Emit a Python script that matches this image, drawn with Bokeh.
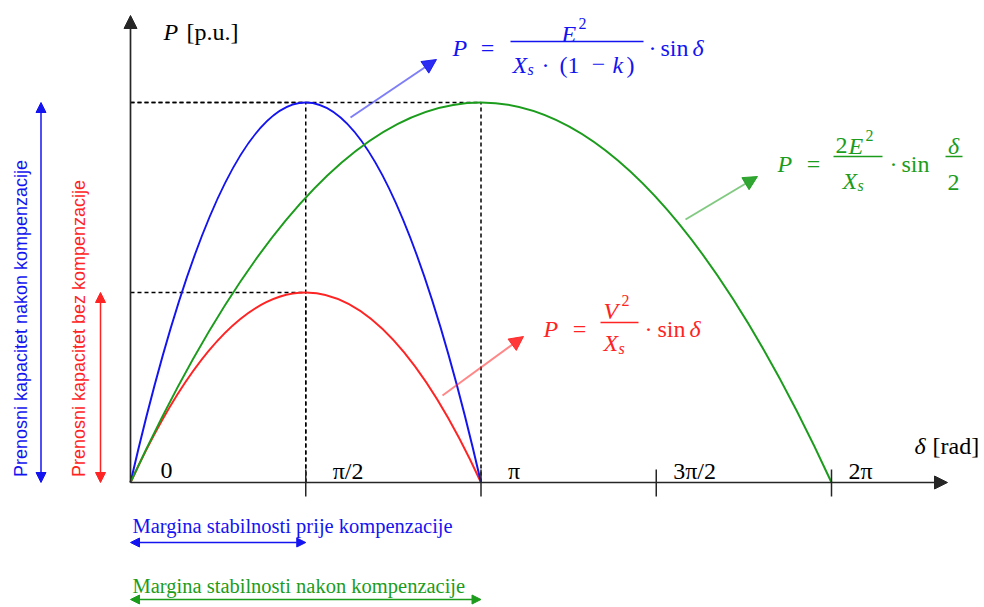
import numpy as np
from bokeh.plotting import figure
from bokeh.models import Arrow, NormalHead, Label, Range1d
from bokeh.core.properties import value
from bokeh.embed import file_html
from bokeh.resources import INLINE

PI = np.pi

# Power-angle characteristics: each arc runs from delta_start to delta_end and peaks mid-way
curve_ids = ["bez_kompenzacije", "nakon_kompenzacije", "pola_kuta"]
delta_start = [0.0, 0.0, 0.0]
delta_end = [PI, PI, 2 * PI]
p_peak = [1.0, 2.0, 2.0]          # peak power [p.u.]

# x axis ticks
tick_values = [0.0, PI / 2, PI, 3 * PI / 2, 2 * PI]
tick_labels = ["0", "π/2", "π", "3π/2", "2π"]

# ---------------------------------------------------------------- layout
W, H = 984, 607
X0_PX, Y0_PX = 130.0, 482.0          # where the origin sits on the canvas
PX_PER_RAD = 350.5 / PI
PX_PER_PU = 190.0


def dx(px):
    return (px - X0_PX) / PX_PER_RAD


def dy(py):
    return (Y0_PX - py) / PX_PER_PU


BLUE = "#1414f0"
RED = "#ff2424"
GREEN = "#1c9c1c"
AXIS = "#262626"
colors = {"bez_kompenzacije": RED, "nakon_kompenzacije": BLUE, "pola_kuta": GREEN}
SERIF = "Liberation Serif"
SANS = "Liberation Sans"
FS = 24      # formula text size
SUP = 16     # super/subscript size

p = figure(width=W, height=H, x_range=Range1d(dx(0), dx(W)), y_range=Range1d(dy(H), dy(0)),
           output_backend="svg", toolbar_location=None, min_border=0,
           x_axis_type=None, y_axis_type=None)
p.grid.visible = False
p.outline_line_color = None
p.background_fill_color = "white"
p.border_fill_color = "white"

peak_pos = {}
for cid, a, b, pk in zip(curve_ids, delta_start, delta_end, p_peak):
    peak_pos[cid] = ((a + b) / 2, pk)

# dashed guide lines from the axes to each maximum
for cid in curve_ids:
    xm, ym = peak_pos[cid]
    p.segment(x0=[0, xm], y0=[ym, 0], x1=[xm, xm], y1=[ym, ym],
              line_color="black", line_width=1.5, line_dash="4 3")

# the arcs themselves (quadratic curves through start, peak and end)
for cid, a, b, pk in zip(curve_ids, delta_start, delta_end, p_peak):
    p.quadratic(x0=[a], y0=[0], x1=[b], y1=[0], cx=[(a + b) / 2], cy=[2 * pk],
                line_color=colors[cid], line_width=2.0)


def arrow(x0, y0, x1, y1, color, size, width=1.5, both=False, head_alpha=1.0, line_alpha=1.0):
    end = NormalHead(size=size, line_color=color, fill_color=color,
                     line_alpha=head_alpha, fill_alpha=head_alpha)
    start = None
    if both:
        start = NormalHead(size=size, line_color=color, fill_color=color,
                           line_alpha=head_alpha, fill_alpha=head_alpha)
    p.add_layout(Arrow(start=start, end=end, x_start=x0, y_start=y0, x_end=x1, y_end=y1,
                       line_color=color, line_width=width, line_alpha=line_alpha))


# axes
arrow(0, 0, dx(947), 0, AXIS, 13, width=1.7)
arrow(0, 0, 0, dy(15), AXIS, 13, width=1.7)
p.segment(x0=tick_values[1:], x1=tick_values[1:], y0=[dy(469)] * 4, y1=[dy(496)] * 4,
          line_color=AXIS, line_width=1.5)

label_offsets_px = [30, 27, 27, 17, 17]
p.text(x=[t + o / PX_PER_RAD for t, o in zip(tick_values, label_offsets_px)],
       y=[dy(470)] * len(tick_values), text=tick_labels,
       text_font=value(SERIF), text_font_size="24px", text_color="black",
       text_align="left", text_baseline="alphabetic")


def put(text, x, y, color="black", size=FS, italic=False, align="left", font=SERIF):
    p.add_layout(Label(x=dx(x), y=dy(y), text=text, text_font=font,
                       text_font_size=f"{size}px",
                       text_font_style="italic" if italic else "normal",
                       text_color=color, text_align=align, text_baseline="alphabetic"))


def bar(x0, x1, y, color):
    p.segment(x0=[dx(x0)], x1=[dx(x1)], y0=[dy(y)], y1=[dy(y)], line_color=color, line_width=1.4)


# axis titles
put("P", 163, 31, size=24, italic=True)
put("[p.u.]", 186, 31, size=24)
put("δ", 914, 445, size=24, italic=True)
put("[rad]", 932, 445, size=24)

# P = E^2 / (X_s (1-k)) * sin d
put("P", 452, 47, BLUE, italic=True)
put("=", 487, 47, BLUE, align="center")
bar(510, 643, 41, BLUE)
put("E", 561, 33, BLUE, italic=True)
put("2", 578, 23, BLUE, size=SUP)
put("X", 512, 64, BLUE, italic=True)
put("s", 527, 69, BLUE, size=SUP, italic=True)
put("·", 545, 64, BLUE, align="center")
put("(1", 559, 64, BLUE)
put("−", 598, 64, BLUE, align="center")
put("k", 612, 64, BLUE, italic=True)
put(")", 626, 64, BLUE)
put("·", 652, 47, BLUE, align="center")
put("sin", 660, 47, BLUE)
put("δ", 692, 47, BLUE, italic=True)

# P = 2E^2 / X_s * sin d/2
put("P", 777, 163, GREEN, italic=True)
put("=", 813, 163, GREEN, align="center")
bar(833, 882, 156, GREEN)
put("2", 835, 145, GREEN)
put("E", 848, 145, GREEN, italic=True)
put("2", 865, 135, GREEN, size=SUP)
put("X", 842, 180, GREEN, italic=True)
put("s", 857, 185, GREEN, size=SUP, italic=True)
put("·", 893, 163, GREEN, align="center")
put("sin", 901, 163, GREEN)
bar(945, 962, 156, GREEN)
put("δ", 953, 145, GREEN, italic=True, align="center")
put("2", 953, 182, GREEN, align="center")

# P = V^2 / X_s * sin d
put("P", 543, 328, RED, italic=True)
put("=", 579, 328, RED, align="center")
bar(600, 638, 322, RED)
put("V", 603, 310, RED, italic=True)
put("2", 621, 300, RED, size=SUP)
put("X", 603, 342, RED, italic=True)
put("s", 618, 348, RED, size=SUP, italic=True)
put("·", 648, 328, RED, align="center")
put("sin", 657, 328, RED)
put("δ", 689, 328, RED, italic=True)

# pointers from the arcs to their formulas
arrow(dx(350), dy(117), dx(436), dy(59), BLUE, 14, width=2, line_alpha=0.55, head_alpha=0.9)
arrow(dx(685), dy(219), dx(757), dy(176), GREEN, 14, width=2, line_alpha=0.55, head_alpha=0.9)
arrow(dx(442), dy(395), dx(523), dy(336), RED, 14, width=2, line_alpha=0.55, head_alpha=0.9)

# transfer capacity (vertical double arrows)
arrow(dx(40.5), 0, dx(40.5), peak_pos["nakon_kompenzacije"][1], BLUE, 10, both=True)
arrow(dx(100), 0, dx(100), peak_pos["bez_kompenzacije"][1], RED, 10, both=True)
p.add_layout(Label(x=dx(20.5), y=dy(318), text="Prenosni kapacitet nakon kompenzacije",
                   text_font=SANS, text_font_size="18px", text_color=BLUE, angle=PI / 2,
                   text_align="center", text_baseline="middle"))
p.add_layout(Label(x=dx(78), y=dy(328), text="Prenosni kapacitet bez kompenzacije",
                   text_font=SANS, text_font_size="18px", text_color=RED, angle=PI / 2,
                   text_align="center", text_baseline="middle"))

# stability margins (horizontal double arrows)
put("Margina stabilnosti prije kompenzacije", 132, 525, BLUE, size=20.5)
arrow(0, dy(542), peak_pos["nakon_kompenzacije"][0], dy(542), BLUE, 9, both=True)
put("Margina stabilnosti nakon kompenzacije", 132, 585, GREEN, size=20.5)
arrow(0, dy(599), peak_pos["pola_kuta"][0], dy(599), GREEN, 9, both=True)

open("out.html", "w").write(file_html(p, INLINE))
